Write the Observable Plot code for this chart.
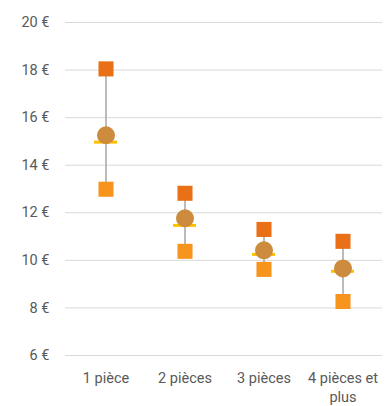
<!DOCTYPE html>
<html><head><meta charset="utf-8">
<script src="https://cdn.jsdelivr.net/npm/d3@7"></script>
<script src="https://cdn.jsdelivr.net/npm/@observablehq/plot@0.6"></script>
<style>body{margin:0;background:#fff}</style>
</head><body><div id="c"></div>
<script>
const categories = ["1 pièce", "2 pièces", "3 pièces", "4 pièces et plus"];
const maxValues = [18.05, 12.82, 11.3, 10.8];
const minValues = [12.99, 10.38, 9.62, 8.27];
const meanValues = [15.26, 11.77, 10.42, 9.66];
const medianValues = [14.97, 11.47, 10.25, 9.54];
const yTicks = [6, 8, 10, 12, 14, 16, 18, 20];

const data = categories.map((c, i) => ({cat: c, max: maxValues[i], min: minValues[i], mean: meanValues[i], median: medianValues[i]}));

const chart = Plot.plot({
  width: 386, height: 406,
  marginLeft: 65, marginRight: 4, marginTop: 22, marginBottom: 51,
  style: {fontFamily: "Roboto, sans-serif", fontSize: "14.5px", color: "#595959", background: "#fff"},
  x: {domain: categories, padding: 0, label: null},
  y: {domain: [6, 20], label: null},
  marks: [
    Plot.gridY(yTicks, {stroke: "#d9d9d9", strokeOpacity: 1, strokeWidth: 1}),
    Plot.axisY(yTicks, {tickSize: 0, tickPadding: 16, tickFormat: d => d + " €", fill: "#595959", fontSize: 14.5}),
    Plot.axisX({tickSize: 0, tickPadding: 14, fontSize: 14.5, fill: "#595959",
      tickFormat: d => d === "4 pièces et plus" ? "4 pièces et\nplus" : d, lineHeight: 1.3}),
    Plot.ruleX(data, {x: "cat", y1: "min", y2: "max", stroke: "#a6a6a6", strokeWidth: 1.5}),
    Plot.tickY(data, {x: "cat", y: "median", stroke: "#ffc000", strokeWidth: 3, inset: 28}),
    Plot.dot(data, {x: "cat", y: "max", symbol: "square", r: 8.5, fill: "#e97016", stroke: "none"}),
    Plot.dot(data, {x: "cat", y: "min", symbol: "square", r: 8.5, fill: "#f7941d", stroke: "none"}),
    Plot.dot(data, {x: "cat", y: "mean", r: 9, fill: "#cd8b3e", stroke: "none"})
  ]
});
document.getElementById("c").append(chart);
</script>
</body></html>
